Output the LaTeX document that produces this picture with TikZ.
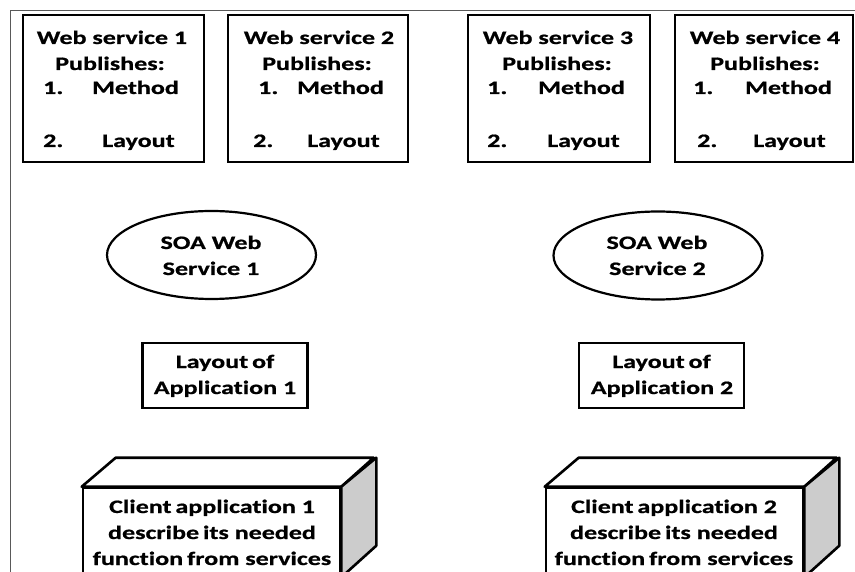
\documentclass[tikz,border=0pt]{standalone}
\usepackage{fontspec}
\newfontfamily\lblfont{Carlito}[FakeStretch=1.37, FakeBold=0.8, Ligatures=NoCommon]
\newfontfamily\capfont{Liberation Serif}[FakeStretch=1.4]
\usetikzlibrary{shapes.geometric}

\begin{document}
\begin{tikzpicture}[x=1pt,y=-1pt,
  pubbox/.style={draw, line width=2.6pt, rectangle, inner sep=0pt,
    minimum width=#1, minimum height=147},
  soa/.style={draw, line width=2.2pt, ellipse, inner sep=0pt,
    minimum width=209, minimum height=88},
  laybox/.style={draw, line width=2.6pt, rectangle, inner sep=0pt,
    minimum width=165, minimum height=65},
  front/.style={draw, line width=2.6pt, rectangle, inner sep=0pt,
    minimum width=257, minimum height=88, fill=white},
  face/.style={draw, line width=2.6pt, line join=round},
  txt/.style={font=\lblfont\bfseries\fontsize{19}{22}\selectfont,
    inner sep=0pt, anchor=base},
  item/.style={txt, anchor=base west}]

\useasboundingbox (0,0) rectangle (855,572);
\clip (0,0) rectangle (855,572);

% caption line above the frame, mostly outside the page
\node[anchor=base west, inner sep=0pt,
  font=\capfont\fontsize{20}{24}\selectfont] (cap) at (10,-7)
  {Figure 1: Proposed Model of SOA};

% frame
\draw[black!65, line width=1pt] (10,575) -- (10,11) -- (858,11);

% published web services
\node[pubbox=181] (ws1) at (113.5,88.5) {};
\node[pubbox=180] (ws2) at (318,88.5) {};
\node[pubbox=182] (ws3) at (559,88.5) {};
\node[pubbox=178] (ws4) at (764,88.5) {};

\node[txt] (ws1a) at (112,44) {Web service 1};
\node[txt] (ws1b) at (110,70) {Publishes:};
\node[item] (ws1c) at (43,94) {1.};
\node[item] (ws1d) at (92,94) {Method};
\node[item] (ws1e) at (43,147) {2.};
\node[item] (ws1f) at (102,147) {Layout};

\node[txt] (ws2a) at (319,44) {Web service 2};
\node[txt] (ws2b) at (317,70) {Publishes:};
\node[item] (ws2c) at (258,94) {1.};
\node[item] (ws2d) at (297,94) {Method};
\node[item] (ws2e) at (253,147) {2.};
\node[item] (ws2f) at (307,147) {Layout};

\node[txt] (ws3a) at (558,44) {Web service 3};
\node[txt] (ws3b) at (557,70) {Publishes:};
\node[item] (ws3c) at (487,94) {1.};
\node[item] (ws3d) at (538,94) {Method};
\node[item] (ws3e) at (487,147) {2.};
\node[item] (ws3f) at (547,147) {Layout};

\node[txt] (ws4a) at (765,44) {Web service 4};
\node[txt] (ws4b) at (765,70) {Publishes:};
\node[item] (ws4c) at (693,94) {1.};
\node[item] (ws4d) at (745,94) {Method};
\node[item] (ws4e) at (697,147) {2.};
\node[item] (ws4f) at (753,147) {Layout};

% SOA web services
\node[soa] (soa1) at (211.5,255) {};
\node[txt] (soa1a) at (211,249) {SOA Web};
\node[txt] (soa1b) at (211,275) {Service 1};
\node[soa] (soa2) at (658,255.5) {};
\node[txt] (soa2a) at (657,249) {SOA Web};
\node[txt] (soa2b) at (657.5,275) {Service 2};

% application layouts
\node[laybox] (lay1) at (225,375.5) {};
\node[txt] (lay1a) at (225,368) {Layout\hspace{-2pt} of};
\node[txt] (lay1b) at (225,394) {Application 1};
\node[laybox] (lay2) at (661.5,375.5) {};
\node[txt] (lay2a) at (661.5,368) {Layout\hspace{-2pt} of};
\node[txt] (lay2b) at (662,394) {Application 2};

% client applications drawn as boxes in perspective
\foreach \n/\cx in {1/211.5, 2/674.5} {
  \node[front] (cl\n) at (\cx,532) {};
  \draw[face, fill=white] (cl\n.north west) -- ++(34,-29) -- ++(258,0)
    -- (cl\n.north east) -- cycle;
  \draw[face, fill=black!20] (cl\n.north east) -- ++(35,-29) -- ++(0,88)
    -- (cl\n.south east) -- cycle;
}
\node[txt] (cl1a) at (212,513) {Client\hspace{-2pt} application 1};
\node[txt] (cl1b) at (212,539) {describe\hspace{-2pt} its needed};
\node[txt] (cl1c) at (212,565) {function\hspace{-2pt} from services};
\node[txt] (cl2a) at (674,513) {Client\hspace{-2pt} application 2};
\node[txt] (cl2b) at (674,539) {describe\hspace{-2pt} its needed};
\node[txt] (cl2c) at (674,565) {function\hspace{-2pt} from services};

\end{tikzpicture}
\end{document}
